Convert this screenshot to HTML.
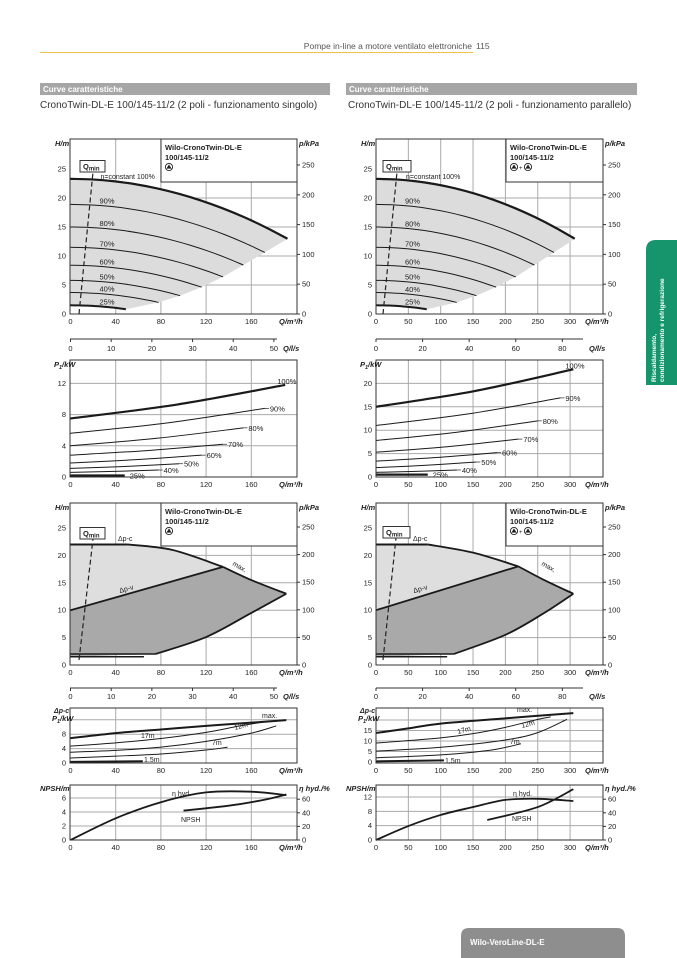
<!DOCTYPE html>
<html><head><meta charset="utf-8">
<style>
body{margin:0;background:#fff;width:677px;height:958px;overflow:hidden}
svg{display:block}
text{font-family:"Liberation Sans",sans-serif;fill:#222}
</style></head><body>
<svg id="s" width="677" height="958" xmlns="http://www.w3.org/2000/svg">
<rect width="677" height="958" fill="#fff"/>
<line x1="40" y1="52.5" x2="473" y2="52.5" stroke="#f0c24a" stroke-width="1"/>
<text x="472" y="49" font-size="8.5" text-anchor="end" style="fill:#555">Pompe in-line a motore ventilato elettroniche</text>
<text x="476" y="49" font-size="8.5" style="fill:#555">115</text>
<rect x="40" y="83" width="290" height="12" fill="#a6a6a6"/>
<text x="43" y="92" font-size="8" font-weight="bold" style="fill:#fff">Curve caratteristiche</text>
<rect x="346" y="83" width="291" height="12" fill="#a6a6a6"/>
<text x="349" y="92" font-size="8" font-weight="bold" style="fill:#fff">Curve caratteristiche</text>
<text x="40" y="108" font-size="10" style="fill:#333">CronoTwin-DL-E 100/145-11/2 (2 poli - funzionamento singolo)</text>
<text x="348" y="108" font-size="10" style="fill:#333">CronoTwin-DL-E 100/145-11/2 (2 poli - funzionamento parallelo)</text>
<path d="M677,240 L656,240 Q646,240 646,250 L646,385 L677,385 Z" fill="#16946c"/>
<text x="656" y="382" font-size="6.5" font-weight="bold" transform="rotate(-90 656 382)" style="fill:#fff">Riscaldamento,</text>
<text x="664" y="382" font-size="6.5" font-weight="bold" transform="rotate(-90 664 382)" style="fill:#fff">condizionamento e refrigerazione</text>
<path d="M461,958 L461,936 Q461,928 469,928 L617,928 Q625,928 625,936 L625,958 Z" fill="#8e8e8e"/>
<text x="470" y="945" font-size="8" font-weight="bold" style="fill:#fff">Wilo-VeroLine-DL-E</text>
</svg>
<script>
const S=document.getElementById('s'),NS='http://www.w3.org/2000/svg';
function el(t,a,txt){const e=document.createElementNS(NS,t);for(const k in a)e.setAttribute(k,a[k]);if(txt!=null)e.textContent=txt;S.appendChild(e);return e;}
function T(x,y,s,o){o=o||{};const a={x:x,y:y,'font-size':o.fs||7.5};if(o.a)a['text-anchor']=o.a;if(o.b)a['font-weight']='bold';if(o.i)a['font-style']='italic';if(o.r)a.transform='rotate('+o.r+' '+x+' '+y+')';return el('text',a,s);}
function smooth(p){if(p.length<3)return 'M'+p.map(q=>q.join(',')).join('L');let d='M'+p[0][0]+','+p[0][1];for(let i=0;i<p.length-1;i++){const p0=p[i-1]||p[i],p1=p[i],p2=p[i+1],p3=p[i+2]||p2;const c1=[p1[0]+(p2[0]-p0[0])/6,p1[1]+(p2[1]-p0[1])/6],c2=[p2[0]-(p3[0]-p1[0])/6,p2[1]-(p3[1]-p1[1])/6];d+='C'+c1+' '+c2+' '+p2;}return d;}
function C(x0,kx,y0,ky,L,R,Tp,B){return {X:q=>x0+q*kx,Y:v=>y0-v*ky,L:L,R:R,T:Tp,B:B};}
function frame(c,vg,hg){el('rect',{x:c.L,y:c.T,width:c.R-c.L,height:c.B-c.T,fill:'#fff'});vg.forEach(q=>el('line',{x1:c.X(q),x2:c.X(q),y1:c.T,y2:c.B,stroke:'#aaa'}));hg.forEach(v=>el('line',{x1:c.L,x2:c.R,y1:c.Y(v),y2:c.Y(v),stroke:'#aaa'}));}
function border(c){el('rect',{x:c.L,y:c.T,width:c.R-c.L,height:c.B-c.T,fill:'none',stroke:'#333'});}
function P(c,pts){return pts.map(p=>[+c.X(p[0]).toFixed(2),+c.Y(p[1]).toFixed(2)]);}
function line(c,pts,w){el('path',{d:smooth(P(c,pts)),fill:'none',stroke:'#1a1a1a','stroke-width':w||1});}
function polyPx(pts,f){el('polygon',{points:pts.map(p=>p.join(',')).join(' '),fill:f});}
function yl(c,vals){vals.forEach(v=>{T(c.L-4,c.Y(v)+2.5,String(v),{a:'end'});});}
function xl(c,vals,y){vals.forEach(q=>T(c.X(q),y,String(q),{a:'middle'}));}
function rl(c,vals,f){vals.forEach(v=>{const y=f(v);el('line',{x1:c.R,x2:c.R+3,y1:y,y2:y,stroke:'#333'});T(c.R+5,y+2.5,String(v));});}
function icon(x,y){el('circle',{cx:x,cy:y,r:3.6,fill:'#fff',stroke:'#222','stroke-width':0.9});el('polygon',{points:(x-2.6)+','+(y+1.6)+' '+x+','+(y-2.6)+' '+(x+2.6)+','+(y+1.6),fill:'#222'});}
function legend(x,y,w,dbl){el('rect',{x:x,y:y,width:w,height:43,fill:'#fff',stroke:'#333'});T(x+4,y+11,'Wilo-CronoTwin-DL-E',{b:1});T(x+4,y+21,'100/145-11/2',{b:1});if(dbl){icon(x+8,y+28);T(x+13,y+31,'+',{fs:6});icon(x+22,y+28);}else icon(x+8,y+28);}
function qmin(bx,by,bw,x1,y1,x2,y2){el('line',{x1:x1,y1:y1,x2:x2,y2:y2,stroke:'#222','stroke-width':1.2,'stroke-dasharray':'5,3'});el('rect',{x:bx,y:by,width:bw,height:11.5,fill:'#fff',stroke:'#333'});const t=T(bx+3,by+8.5,'Q',{b:1});const s=document.createElementNS(NS,'tspan');s.setAttribute('font-size','6');s.setAttribute('dy','1.5');s.textContent='min';t.appendChild(s);}

function side(L,R,x0,kx,qs,qlabels,qls,dbl){
 const sc=R===297?1:1.6;
 // Chart 1
 const c1=C(x0,kx,314,5.8,L,R,139,314);
 frame(c1,qs,[5,10,15,20]);
 const k=0.00028/(sc*sc);
 const ns=[[100,23.3,192],[90,18.9,172],[80,15,153],[70,11.5,135],[60,8.4,116],[50,5.8,97],[40,3.7,78],[25,1.5,49]];
 const curve=(h,qe)=>{const a=[];for(let i=0;i<=10;i++){const q=qe*sc*i/10;a.push([q,h-k*q*q]);}return a;};
 let top=P(c1,curve(23.3,192));let ends=ns.slice(1).map(n=>{const q=n[2]*sc;return [q,n[1]-k*q*q];});
 let bot=P(c1,curve(1.5,49)).reverse();
 polyPx(top.concat(P(c1,ends).slice(0,-1)).concat(bot),'#dcdcdc');
 ns.forEach(n=>{line(c1,curve(n[1],n[2]),n[0]==100?2.2:(n[0]==25?2:1));if(n[0]!=100){const xx=x0+29;const q=29/kx;T(xx,c1.Y(n[1]-k*q*q)-2,n[0]+'%');}});
 T(x0+30,179,'n=constant 100%',{fs:7});
 border(c1);
 legend(R===297?161:506,139,R-(R===297?161:506),dbl);
 if(R===297)qmin(80,160.5,25,79,314,93,172);else qmin(383,160.5,28,383,314,397,172);
 yl(c1,[0,5,10,15,20,25]);xl(c1,qlabels,324);
 T(L-15,146,'H/m',{b:1,i:1});T(R+2,146,'p/kPa',{b:1,i:1});
 rl(c1,[0,50,100,150,200,250],p=>314-p*0.596);
 T(R-18,324,'Q/m³/h',{b:1,i:1});
 // l/s axis
 el('line',{x1:L,x2:R-20,y1:339,y2:339,stroke:'#333'});
 qls.forEach(v=>{const x=x0+v*3.6*kx;el('line',{x1:x,x2:x,y1:339,y2:342,stroke:'#333'});T(x,351,String(v),{a:'middle'});});
 T(R-14,351,'Q/l/s',{b:1,i:1});
 // Chart 2 P1
 const left=R===297;
 const c2=left?C(x0,kx,477,7.8,L,R,360,477):C(x0,kx,477,4.68,L,R,360,477);
 frame(c2,qs,left?[4,8,12]:[5,10,15,20]);
 const pl=left?[[100,7.5,190,11.8],[90,5.6,172,8.8],[80,4,153,6.3],[70,2.8,135,4.2],[60,1.8,116,2.8],[50,1.1,96,1.7],[40,0.6,78,0.9],[25,0.2,48,0.2]]
  :[[100,15,305,23],[90,11,285,16.9],[80,7.8,250,12],[70,5.3,220,8.1],[60,3.4,187,5.2],[50,2,155,3.2],[40,1,125,1.5],[25,0.5,80,0.5]];
 pl.forEach(p=>{const m=[(p[2])/2,(p[1]+p[3])/2-0.08*(p[3]-p[1])];line(c2,[[0,p[1]],m,[p[2],p[3]]],(p[0]==100||p[0]==25)?2.2:1);const ex=c2.X(p[2]),ey=c2.Y(p[3]);if(p[0]!=100&&p[0]!=25)el('line',{x1:ex,x2:ex+4,y1:ey,y2:ey,stroke:'#222',"stroke-width":0.7});T(ex+(p[0]==100?-8:5),ey+(p[0]==100?-1:3),p[0]+'%');});
 border(c2);
 yl(c2,left?[0,4,8,12]:[0,5,10,15,20]);xl(c2,qlabels,487);
 T(L-16,367,'P',{b:1,i:1});T(L-11,369,'1',{b:1,i:1,fs:5.5});T(L-8,367,'/kW',{b:1,i:1});
 T(R-18,487,'Q/m³/h',{b:1,i:1});
 // Chart 3
 const c3=C(x0,kx,665,5.48,L,R,503,665);
 frame(c3,qs,[5,10,15,20]);
 let lt,dk,mx,lw,bt,dpc,dpv;
 if(left){
  mx=[[50,22],[90,21],[135,17.9],[160,15.5],[191,13]];lw=[[191,13],[160,9.5],[120,5.1],[75,2]];dpc=[[0,22],[50,22]];dpv=[[0,10],[135,17.9]];bt=[[[0,1.5],[65,1.5]],[[0,2],[75,2]]];
 } else {
  mx=[[80,22],[150,20.5],[220,18],[260,15.5],[305,13]];lw=[[305,13],[260,9.5],[200,5.5],[120,2]];dpc=[[0,22],[80,22]];dpv=[[0,10],[220,18]];bt=[[[0,1.5],[110,1.5]],[[0,2],[120,2]]];
 }
 polyPx([[c3.X(0),c3.Y(22)]].concat(P(c3,mx.slice(0,3))).concat([[c3.X(0),c3.Y(10)]]),'#dedede');
 polyPx([[c3.X(0),c3.Y(10)]].concat(P(c3,mx.slice(2))).concat(P(c3,lw.slice(1))).concat([[c3.X(0),c3.Y(1.5)]]),'#a9a9a9');
 line(c3,dpc,2);line(c3,mx.slice(0,3),1.8);line(c3,mx.slice(2),1.8);line(c3,lw,1.8);line(c3,dpv,1.8);bt.forEach(b=>line(c3,b,1.5));
 border(c3);
 legend(left?161:506,503,R-(left?161:506),dbl);
 if(left)qmin(80,527.5,25,79,660,93,539);else qmin(383,526.5,27,383,660,396,538);
 T(left?118:413,541,'Δp-c',{fs:7});
 T(left?120:414,593,'Δp-v',{fs:7,r:-15});
 T(left?232:541,565,'max.',{fs:7,r:30});
 yl(c3,[0,5,10,15,20,25]);xl(c3,qlabels,675);
 T(L-15,510,'H/m',{b:1,i:1});T(R+2,510,'p/kPa',{b:1,i:1});
 rl(c3,[0,50,100,150,200,250],p=>665-p*0.552);
 T(R-18,675,'Q/m³/h',{b:1,i:1});
 el('line',{x1:L,x2:R-20,y1:688,y2:688,stroke:'#333'});
 qls.forEach(v=>{const x=x0+v*3.6*kx;el('line',{x1:x,x2:x,y1:688,y2:691,stroke:'#333'});T(x,699,String(v),{a:'middle'});});
 T(R-14,699,'Q/l/s',{b:1,i:1});
 // Chart 4
 const c4=left?C(x0,kx,763,3.6,L,R,708,763):C(x0,kx,762,2.1,L,R,708,763);
 frame(c4,qs,left?[4,8,12]:[5,10,15,20]);
 if(left){
  line(c4,[[0,6.9],[40,8.3],[80,9.3],[120,10.3],[160,11.2],[191,11.9]],2);
  line(c4,[[0,4.7],[40,5.6],[80,6.8],[120,8.5],[150,10.3],[175,11.6]]);
  line(c4,[[0,3],[40,3.5],[80,4.4],[120,6],[160,8.3],[182,10.3]]);
  line(c4,[[0,1.4],[40,1.9],[80,2.5],[120,3.6],[139,4.4]]);
  line(c4,[[0,0.3],[64,0.5]],2);
  T(262,718,'max.',{fs:7});T(141,738,'17m',{fs:7});T(235,730,'12m',{fs:7,r:-15});T(212,745,'7m',{fs:7});T(144,762,'1.5m',{fs:7});
 } else {
  line(c4,[[0,13.8],[50,16],[100,18.3],[200,20.8],[305,23.3]],2);
  line(c4,[[0,9],[100,11.5],[150,13.5],[200,16.5],[250,20.3],[270,21.5]]);
  line(c4,[[0,5.2],[100,7],[200,10.5],[250,14],[295,20.3]]);
  line(c4,[[0,2],[100,3.4],[180,5.8],[224,8.7]]);
  line(c4,[[0,0.3],[105,0.8]],2);
  T(517,712,'max.',{fs:7});T(458,734,'17m',{fs:7,r:-15});T(522,728,'12m',{fs:7,r:-15});T(510,744,'7m',{fs:7});T(445,763,'1,5m',{fs:7});
 }
 border(c4);
 yl(c4,left?[0,4,8]:[0,5,10,15]);xl(c4,qlabels,773);
 T(L-16,713,'Δp-c',{b:1,i:1,fs:7});T(L-18,721,'P',{b:1,i:1});T(L-13,723,'1',{b:1,i:1,fs:5.5});T(L-10,721,'/kW',{b:1,i:1});
 T(R-18,773,'Q/m³/h',{b:1,i:1});
 // Chart 5
 const c5=left?C(x0,kx,840,7,L,R,785,840):C(x0,kx,840,3.58,L,R,785,840);
 frame(c5,qs,left?[2,4,6]:[4,8,12]);
 if(left){
  line(c5,[[0,0],[40,3.1],[80,5.4],[120,6.8],[160,6.9],[191,6.4]],1.8);
  line(c5,[[100,4.2],[140,4.9],[170,5.7],[191,6.5]],1.8);
  T(172,796,'η hyd.',{fs:7});T(181,822,'NPSH',{fs:7});
 } else {
  line(c5,[[0,0],[50,3.9],[100,7],[150,9.2],[200,11.2],[250,11.5],[305,10.9]],1.8);
  line(c5,[[172,5.6],[250,9.2],[305,14.2]],1.8);
  T(513,796,'η hyd.',{fs:7});T(512,821,'NPSH',{fs:7});
 }
 border(c5);
 yl(c5,left?[0,2,4,6]:[0,4,8,12]);xl(c5,qlabels,850);
 rl(c5,[0,20,40,60],e=>840-e*0.68);
 T(L-30,791,'NPSH/m',{b:1,i:1});T(R+2,791,'η hyd./%',{b:1,i:1});
 T(R-18,850,'Q/m³/h',{b:1,i:1});
}
side(70,297,70.5,1.13,[40,80,120,160],[0,40,80,120,160],[0,10,20,30,40,50],false);
side(376,603,376,0.647,[50,100,150,200,250,300],[0,50,100,150,200,250,300],[0,20,40,60,80],true);
</script>
</body></html>
